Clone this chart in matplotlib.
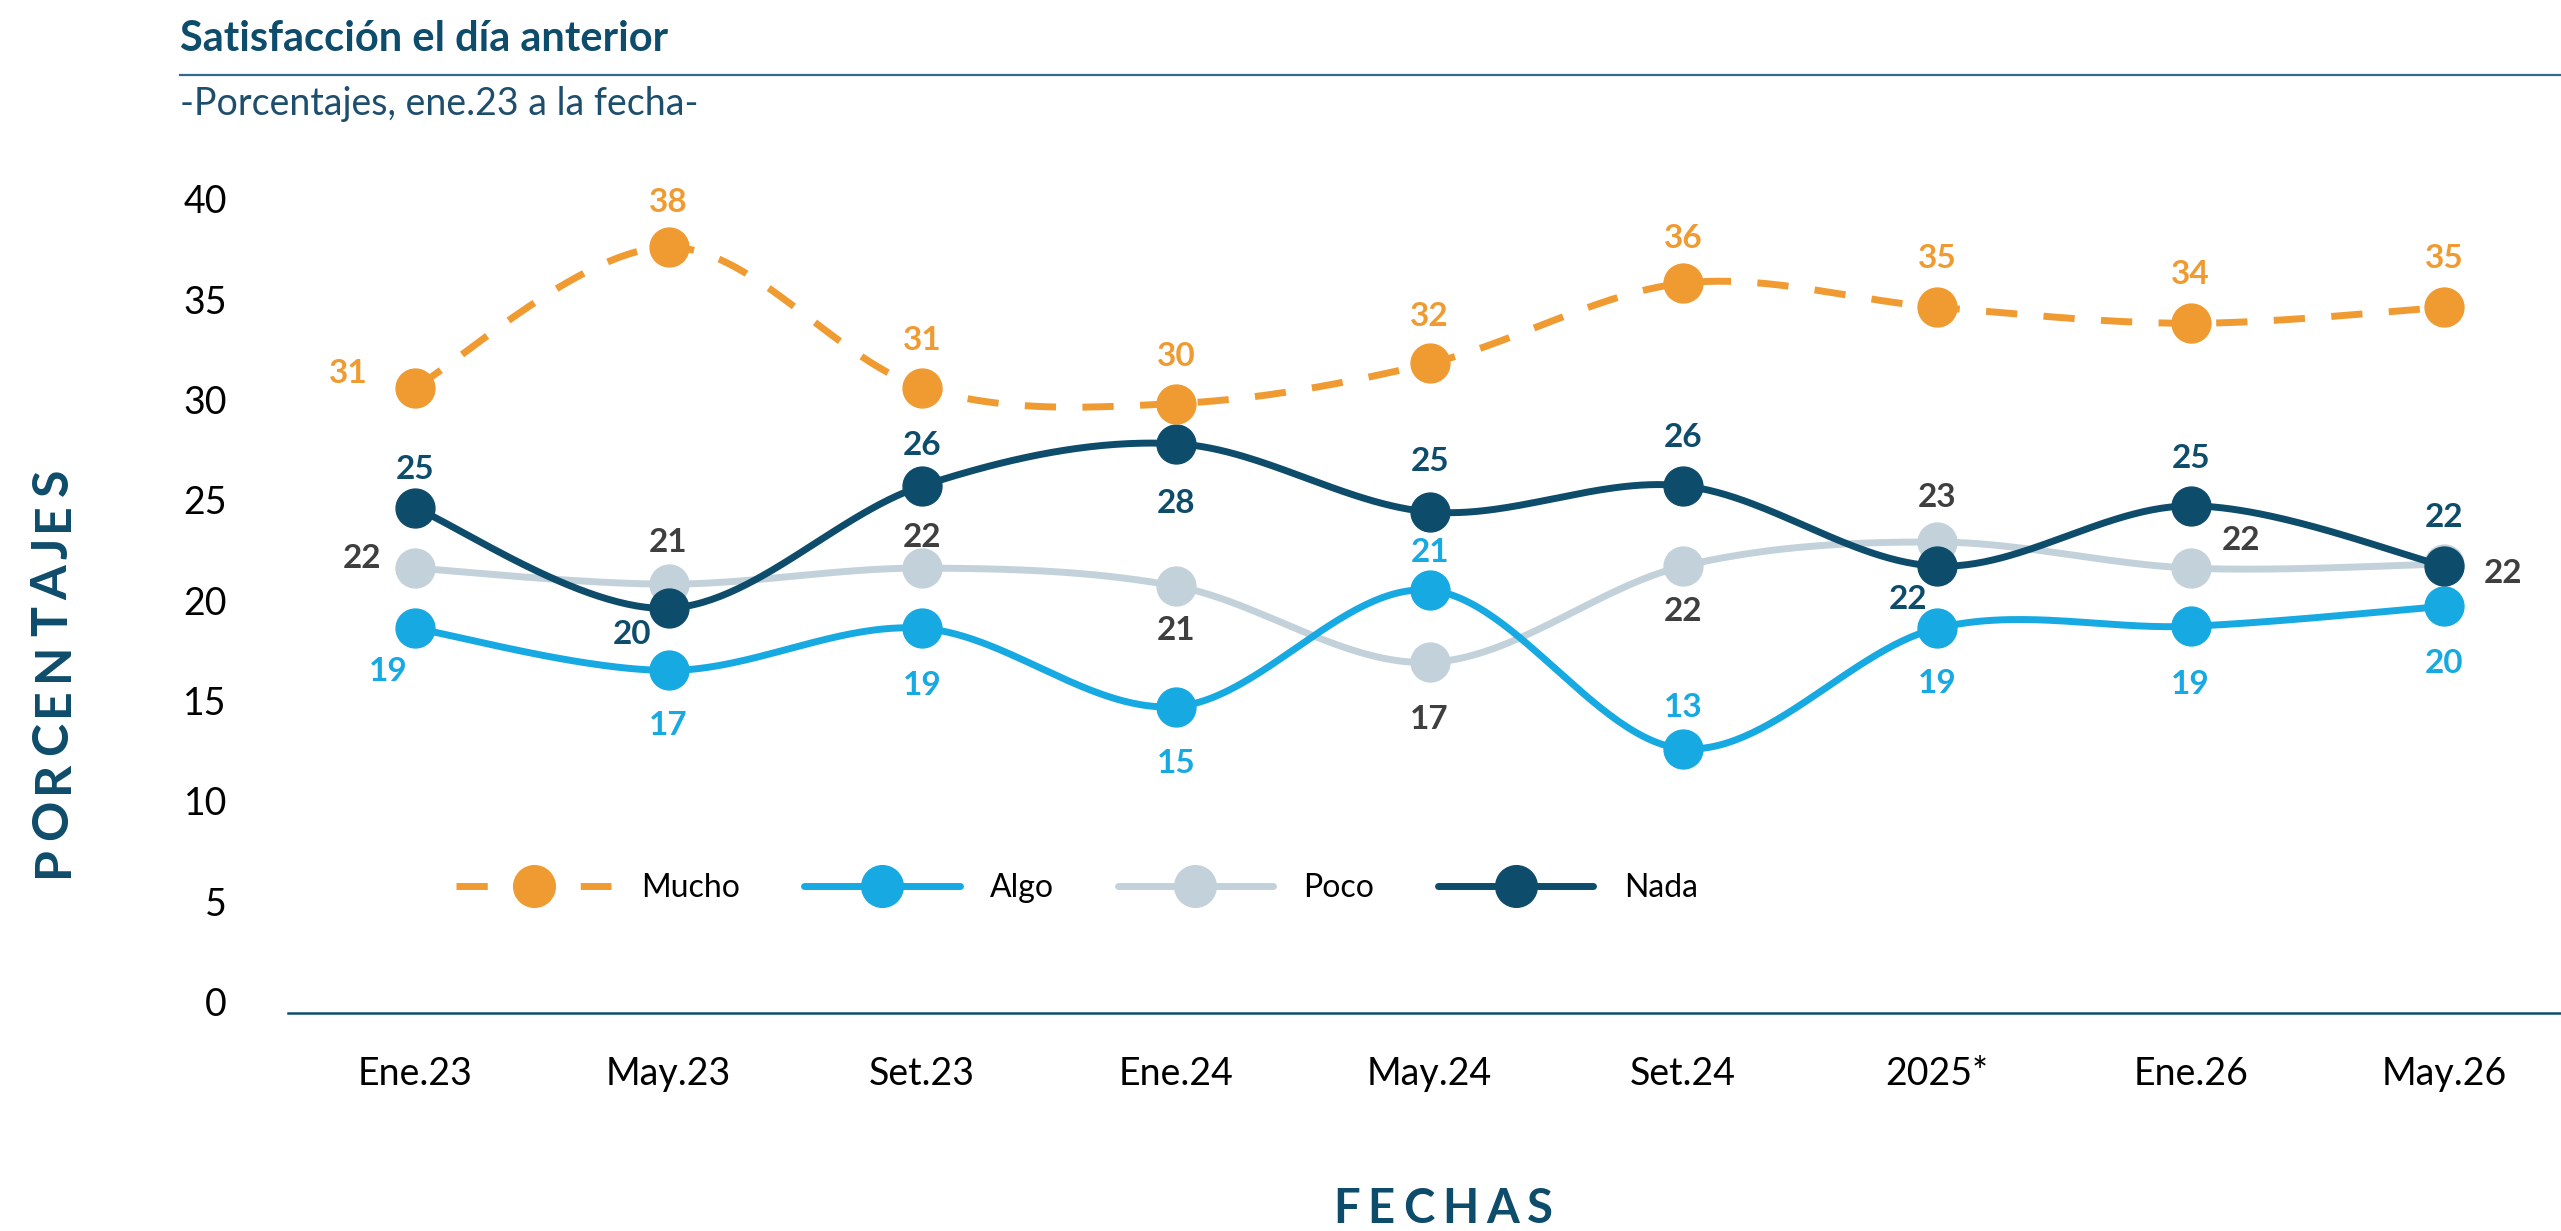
import numpy as np
import matplotlib
matplotlib.use('Agg')
import matplotlib.pyplot as plt
from matplotlib.lines import Line2D

plt.rcParams['font.family'] = ['Lato', 'DejaVu Sans']

fechas = ['Ene.23', 'May.23', 'Set.23', 'Ene.24', 'May.24', 'Set.24', '2025*', 'Ene.26', 'May.26']
mucho = [30.6, 37.6, 30.6, 29.8, 31.8, 35.8, 34.6, 33.8, 34.6]
algo = [18.6, 16.5, 18.6, 14.7, 20.5, 12.6, 18.6, 18.7, 19.7]
poco = [21.6, 20.8, 21.6, 20.7, 16.9, 21.7, 22.9, 21.6, 21.8]
nada = [24.6, 19.6, 25.7, 27.8, 24.4, 25.7, 21.7, 24.7, 21.7]
lab_mucho = [31, 38, 31, 30, 32, 36, 35, 34, 35]
lab_algo = [19, 17, 19, 15, 21, 13, 19, 19, 20]
lab_poco = [22, 21, 22, 21, 17, 22, 23, 22, 22]
lab_nada = [25, 20, 26, 28, 25, 26, 22, 25, 22]

c_mucho = '#EF9B32'
c_algo = '#17A9E1'
c_poco = '#C3D2DA'
c_nada = '#0E4C6B'
c_txt_poco = '#3F3F3F'

# label offsets (points): dx, dy (dy positive = up)
off_mucho = [(-48, 10), (0, 32), (0, 34), (0, 34), (0, 34), (0, 32), (0, 35), (0, 35), (0, 35)]
off_algo = [(-19, -31), (0, -40), (0, -41), (0, -41), (0, 27), (0, 30), (0, -40), (0, -42), (0, -41)]
off_poco = [(-38, 7), (0, 30), (0, 22), (0, -32), (0, -41), (0, -33), (0, 32), (36, 20), (42, -7)]
off_nada = [(0, 28), (-26, -19), (0, 29), (0, -43), (0, 36), (0, 35), (-21, -24), (0, 34), (0, 35)]

W, H = 2561, 1231


def smooth(y, n=60):
    # cardinal spline through the points (Excel style smoothing)
    y = np.asarray(y, float)
    x = np.arange(len(y), dtype=float)
    px = np.concatenate([[x[0]], x, [x[-1]]])
    py = np.concatenate([[y[0]], y, [y[-1]]])
    xs, ys = [], []
    t = np.linspace(0, 1, n)
    for i in range(len(y) - 1):
        p0 = np.array([px[i + 1], py[i + 1]])
        p3 = np.array([px[i + 2], py[i + 2]])
        p1 = p0 + (np.array([px[i + 2], py[i + 2]]) - np.array([px[i], py[i]])) / 6
        p2 = p3 - (np.array([px[i + 3], py[i + 3]]) - np.array([px[i + 1], py[i + 1]])) / 6
        b = ((1 - t) ** 3)[:, None] * p0 + (3 * (1 - t) ** 2 * t)[:, None] * p1 \
            + (3 * (1 - t) * t ** 2)[:, None] * p2 + (t ** 3)[:, None] * p3
        xs.append(b[:, 0]); ys.append(b[:, 1])
    return np.concatenate(xs), np.concatenate(ys)


def spaced_text(fig, s, cx, cy, size, length, vertical=False, **kw):
    # letter-spaced caps, centred at (cx, cy) in pixels from top-left
    r = fig.canvas.get_renderer()
    widths = []
    for ch in s:
        t = fig.text(0, 0, ch, fontsize=size, **kw)
        widths.append(t.get_window_extent(r).width)
        t.remove()
    gap = (length - sum(widths)) / (len(s) - 1)
    pos = -length / 2
    for ch, w in zip(s, widths):
        c = pos + w / 2
        if vertical:
            fig.text(cx / W, 1 - (cy - c) / H, ch, fontsize=size, rotation=90,
                     ha='center', va='center', **kw)
        else:
            fig.text((cx + c) / W, 1 - cy / H, ch, fontsize=size,
                     ha='center', va='center', **kw)
        pos += w + gap


fig = plt.figure(figsize=(W / 100, H / 100), dpi=100)
ax = fig.add_axes([288 / W, 0.177, 1 - 288 / W, 0.694])

x = np.arange(len(fechas))
lw = 5
ms = 28

series = [
    (poco, c_poco, '-', lab_poco, off_poco, c_txt_poco),
    (algo, c_algo, '-', lab_algo, off_algo, c_algo),
    (nada, c_nada, '-', lab_nada, off_nada, c_nada),
    (mucho, c_mucho, '--', lab_mucho, off_mucho, c_mucho),
]
for z, (vals, col, ls, labs, offs, tcol) in enumerate(series):
    sx, sy = smooth(vals)
    line, = ax.plot(sx, sy, color=col, lw=lw, ls=ls, zorder=2 + z, solid_capstyle='round')
    if ls == '--':
        line.set_dashes((4.5, 3.8))
    ax.plot(x, vals, 'o', color=col, ms=ms, zorder=2 + z, clip_on=False)
    for xi, v, lb, (dx, dy) in zip(x, vals, labs, offs):
        ax.annotate(str(lb), (xi, v), xytext=(dx, dy), textcoords='offset points',
                    ha='center', va='center', fontsize=24, fontweight='bold',
                    color=tcol, zorder=10)

ax.set_xlim(-0.5, 8.46)
ax.set_ylim(-0.58, 42)
ax.set_yticks(range(0, 41, 5))
ax.set_xticks(x)
ax.set_xticklabels(fechas)
ax.tick_params(axis='both', length=0, labelsize=27, colors='black')
ax.tick_params(axis='y', pad=44)
ax.tick_params(axis='x', pad=31)
for s in ['top', 'right', 'left']:
    ax.spines[s].set_visible(False)
ax.spines['bottom'].set_color(c_nada)
ax.spines['bottom'].set_linewidth(1.8)

handles = [
    Line2D([], [], color=c_mucho, lw=lw, ls='--', dashes=(4.5, 13.4), marker='o', ms=30),
    Line2D([], [], color=c_algo, lw=lw, marker='o', ms=30, solid_capstyle='round'),
    Line2D([], [], color=c_poco, lw=lw, marker='o', ms=30, solid_capstyle='round'),
    Line2D([], [], color=c_nada, lw=lw, marker='o', ms=30, solid_capstyle='round'),
]
fig.legend(handles, ['Mucho', 'Algo', 'Poco', 'Nada'], ncol=4, frameon=False,
           loc='center', bbox_to_anchor=(0.4205, 0.2786), fontsize=23,
           handlelength=4.86, handletextpad=0.95, columnspacing=2.0)

fig.text(180 / W, 1 - 39 / H, 'Satisfacción el día anterior', fontsize=30,
         fontweight='bold', color=c_nada, va='center', ha='left')
fig.add_artist(Line2D([180 / W, 1], [1 - 75 / H, 1 - 75 / H], color='#2F6B8C', lw=1.6))
fig.text(180 / W, 1 - 104 / H, '-Porcentajes, ene.23 a la fecha-', fontsize=27,
         color='#1E4E6E', va='center', ha='left')

spaced_text(fig, 'PORCENTAJES', 53, 673, 36, 408, vertical=True,
            fontweight='bold', color=c_nada)
spaced_text(fig, 'FECHAS', 1443, 1209, 34, 220, fontweight='bold', color=c_nada)

fig.savefig('out.png', dpi=100)
